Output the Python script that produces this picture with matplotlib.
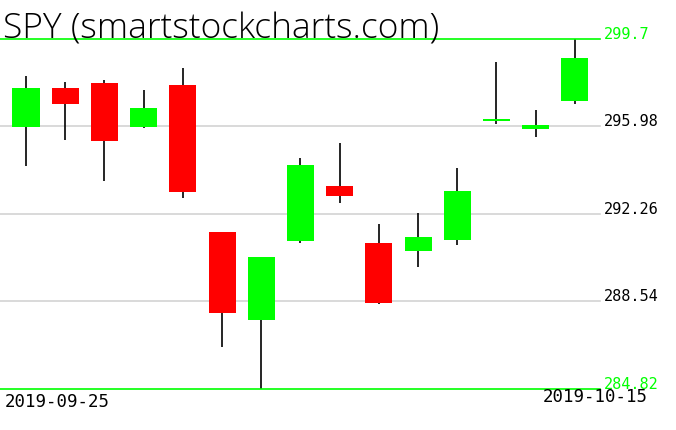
import matplotlib
matplotlib.use('Agg')
import matplotlib.pyplot as plt

# SPY daily candles, 2019-09-25 .. 2019-10-15
dates = ['2019-09-25', '2019-09-26', '2019-09-27', '2019-09-30', '2019-10-01',
         '2019-10-02', '2019-10-03', '2019-10-04', '2019-10-07', '2019-10-08',
         '2019-10-09', '2019-10-10', '2019-10-11', '2019-10-14', '2019-10-15']
opens = [295.97, 297.62, 297.84, 295.97, 297.74, 291.49, 287.77, 291.12, 293.45,
         291.03, 290.70, 291.17, 296.23, 295.87, 297.08]
highs = [298.13, 297.87, 297.96, 297.53, 298.47, 291.49, 290.45, 294.64, 295.28,
         291.83, 292.29, 294.22, 298.72, 296.68, 299.70]
lows = [294.31, 295.42, 293.68, 295.90, 292.95, 286.62, 284.82, 291.04, 292.74,
        288.45, 290.02, 290.95, 296.10, 295.55, 296.95]
closes = [297.62, 296.95, 295.38, 296.77, 293.21, 288.04, 290.43, 294.34, 293.04,
          288.49, 291.28, 293.24, 296.30, 296.04, 298.89]

levels = [299.7, 295.98, 292.26, 288.54, 284.82]
ticker = 'SPY'

fig = plt.figure(figsize=(6.76, 4.31), dpi=100)
ax = fig.add_axes([0, 41 / 431, 600 / 676, 350 / 431])
ax.set_xlim(-0.663, 14.64)
ax.set_ylim(levels[-1], levels[0])
ax.axis('off')

x = list(range(len(dates)))
colors = ['#00ff00' if c >= o else '#ff0000' for o, c in zip(opens, closes)]
ax.vlines(x, lows, highs, color='black', linewidth=1.2, zorder=2)
ax.bar(x, [c - o for o, c in zip(opens, closes)], bottom=opens, width=0.69,
       color=colors, zorder=3)

for i, lv in enumerate(levels):
    edge = i == 0 or i == len(levels) - 1
    ax.axhline(lv, color='#00ff00' if edge else '#d3d3d3', linewidth=1.2,
               zorder=1 if not edge else 4, clip_on=False)
    ax.text(1.007, lv + 0.06, str(lv), transform=ax.get_yaxis_transform(),
            color='#00ff00' if edge else 'black', fontsize=11,
            family='DejaVu Sans Mono', va='baseline', ha='left')

fig.text(3 / 676, 1 - 39 / 431, ticker + ' (smartstockcharts.com)',
         fontsize=25.5, family=['Open Sans', 'DejaVu Sans'], fontweight='light',
         va='baseline')

fig.text(5 / 676, 1 - 407 / 431, dates[0], fontsize=12.5,
         family='DejaVu Sans Mono', va='baseline')
fig.text(648 / 676, 1 - 402 / 431, dates[-1], fontsize=12.5,
         family='DejaVu Sans Mono', va='baseline', ha='right')

fig.savefig('out.png', dpi=100)
